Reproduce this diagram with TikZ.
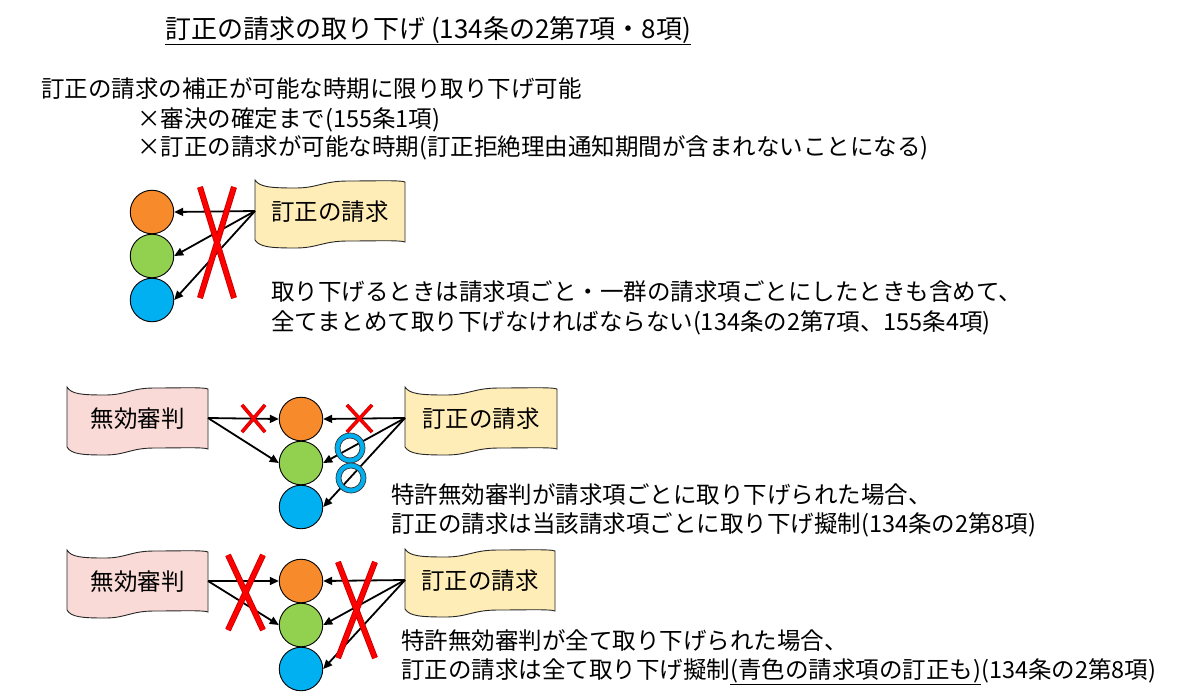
\documentclass[tikz,border=0pt]{standalone}
\usepackage{fontspec}
\setmainfont{Noto Sans CJK JP}
\usetikzlibrary{arrows.meta}
\definecolor{corange}{HTML}{F78A2B}
\definecolor{cgreen}{HTML}{92D050}
\definecolor{cblue}{HTML}{00B0F0}
\definecolor{cpink}{HTML}{F9DAD6}
\definecolor{cyellow}{HTML}{FFEDB8}
\definecolor{xred}{HTML}{FF0000}
\definecolor{xdark}{HTML}{C00000}
\tikzset{
  txt/.style={anchor=base west, inner sep=0pt, font=\fontsize{23.5}{28}\selectfont},
  titletxt/.style={anchor=base west, inner sep=0pt, font=\fontsize{26}{30}\selectfont},
  ball/.style={circle, draw=black, line width=0.9pt, minimum size=43.5pt, inner sep=0pt},
  arr/.style={-{Triangle[length=9pt,width=8pt]}, line width=1.8pt, black},
  wavefr/.style={draw=black!85, line width=0.9pt},
  wavelabel/.style={inner sep=0pt, font=\fontsize{23.5}{28}\selectfont},
  ringstyle/.style={fill=cblue, draw=black!80, line width=0.7pt, even odd rule},
}
% name, x, y, width, fill, text
\newcommand\wavebox[6]{%
  \begin{scope}[shift={(#2,#3)}]
    \draw[wavefr, fill=#5] (0,0) .. controls (0.03*#4,7) and (0.1*#4,8) .. (0.27*#4,8)
      .. controls (0.42*#4,8) and (0.45*#4,1) .. (0.62*#4,1)
      .. controls (0.8*#4,1) and (0.97*#4,0) .. (#4,2) -- (#4,62)
      .. controls (0.97*#4,60) and (0.8*#4,61) .. (0.62*#4,61)
      .. controls (0.45*#4,61) and (0.42*#4,68) .. (0.27*#4,68)
      .. controls (0.1*#4,68) and (0.03*#4,67) .. (0,60) -- cycle;
    \node[wavelabel] (#1) at (0.5*#4,32) {#6};
    \coordinate (#1-l) at (0,31);
    \coordinate (#1-r) at (#4,31);
  \end{scope}}
% x1 y1 x2 y2 outerwidth innerwidth
\newcommand\redx[6]{%
  \draw[draw=xdark, line width=#5] (#1,#2) -- (#3,#4) (#3,#2) -- (#1,#4);
  \draw[draw=xred, line width=#6] (#1,#2) -- (#3,#4) (#3,#2) -- (#1,#4);}
\begin{document}
\begin{tikzpicture}[x=1pt,y=-1pt]
\useasboundingbox[fill=white] (0,0) rectangle (1200,699);

% title and header text
\node[titletxt] (title) at (165,38) {\underline{訂正の請求の取り下げ (134条の2第7項・8項)}};
\node[txt] (l1) at (41,97) {訂正の請求の補正が可能な時期に限り取り下げ可能};
\node[txt] (l2) at (137,127) {×審決の確定まで(155条1項)};
\node[txt] (l3) at (137,155) {×訂正の請求が可能な時期(訂正拒絶理由通知期間が含まれないことになる)};

% ---------- section 1 ----------
\node[ball, fill=corange] (a1) at (152,212) {};
\node[ball, fill=cgreen] (a2) at (152,256) {};
\node[ball, fill=cblue] (a3) at (152,300) {};
\wavebox{t1}{255}{180}{150}{cyellow}{訂正の請求}
\draw[arr] (t1-l) -- (a1.east);
\draw[arr] (t1-l) -- (a2.east);
\draw[arr] (t1-l) -- (a3.east);
\redx{200}{187}{234}{298}{6pt}{4.4pt}
\node[txt] (s1a) at (271,300) {取り下げるときは請求項ごと・一群の請求項ごとにしたときも含めて、};
\node[txt] (s1b) at (271,330) {全てまとめて取り下げなければならない(134条の2第7項、155条4項)};

% ---------- section 2 ----------
\node[ball, fill=corange] (b1) at (301,419) {};
\node[ball, fill=cgreen] (b2) at (301,463) {};
\node[ball, fill=cblue] (b3) at (301,507) {};
\wavebox{m2}{67}{387}{141}{cpink}{無効審判}
\wavebox{t2}{405}{387}{152}{cyellow}{訂正の請求}
\draw[arr] (m2-r) -- (b1.west);
\draw[arr] (m2-r) -- (b2.west);
\draw[arr] (t2-l) -- (b1.east);
\draw[arr] (t2-l) -- (b2.east);
\draw[arr] (t2-l) -- (b3.east);
\redx{242}{405}{265}{432}{3.6pt}{2.4pt}
\redx{347}{405}{372}{432}{3.6pt}{2.4pt}
\path[ringstyle] (350,448) circle (15) (350,448) circle (10);
\path[ringstyle] (351,478) circle (15) (351,478) circle (10);
\node[txt] (s2a) at (391,503) {特許無効審判が請求項ごとに取り下げられた場合、};
\node[txt] (s2b) at (391,532) {訂正の請求は当該請求項ごとに取り下げ擬制(134条の2第8項)};

% ---------- section 3 ----------
\node[ball, fill=corange] (c1) at (301,581) {};
\node[ball, fill=cgreen] (c2) at (301,625) {};
\node[ball, fill=cblue] (c3) at (301,669) {};
\wavebox{m3}{67}{550}{141}{cpink}{無効審判}
\wavebox{t3}{405}{549}{150}{cyellow}{訂正の請求}
\draw[arr] (m3-r) -- (c1.west);
\draw[arr] (m3-r) -- (c2.west);
\draw[arr] (t3-l) -- (c1.east);
\draw[arr] (t3-l) -- (c2.east);
\draw[arr] (t3-l) -- (c3.east);
\redx{228}{555}{263}{630}{6pt}{4.4pt}
\redx{338}{562}{375}{658}{6pt}{4.4pt}
\node[txt] (s3a) at (401,649) {特許無効審判が全て取り下げられた場合、};
\node[txt] (s3b) at (401,678) {訂正の請求は全て取り下げ擬制\underline{(青色の請求項の訂正も)}(134条の2第8項)};
\end{tikzpicture}
\end{document}
